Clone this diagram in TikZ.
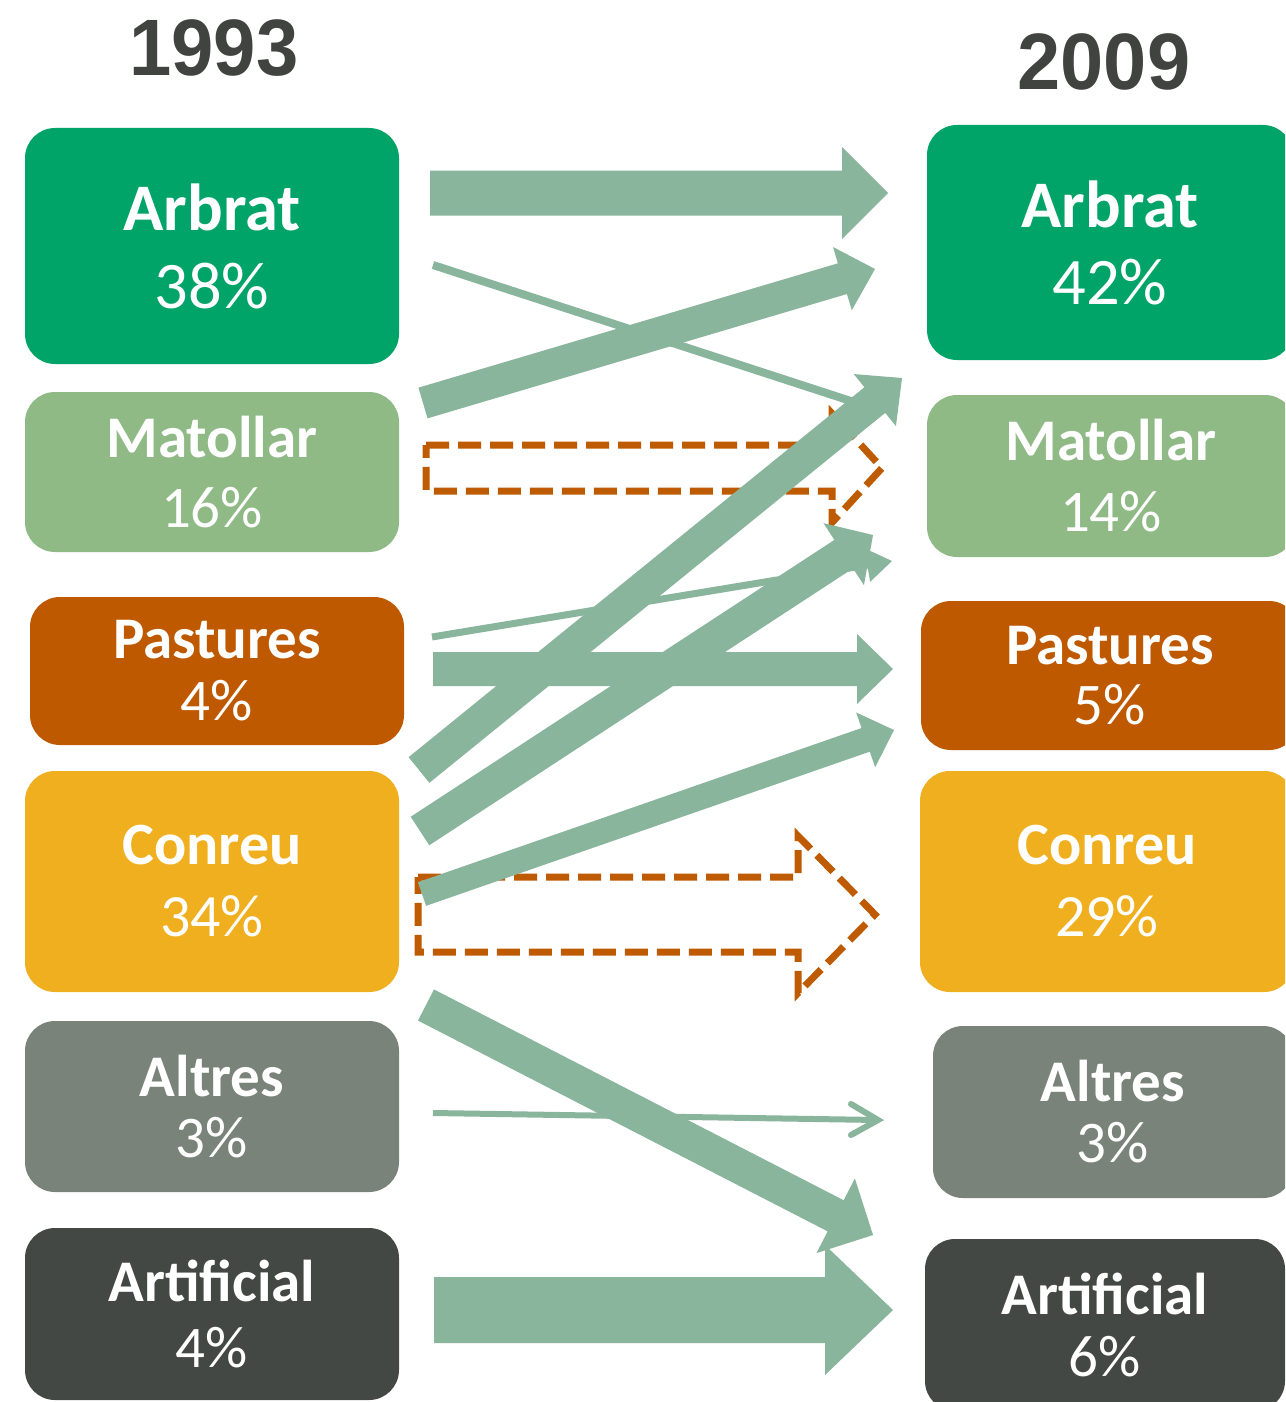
\documentclass[tikz,border=0pt]{standalone}
\usepackage{fontspec}
\setmainfont{Carlito}
\newfontfamily\yearfont{Liberation Sans}
\usetikzlibrary{calc}
\definecolor{arrowgreen}{HTML}{89B59D}
\definecolor{dashorange}{HTML}{BE5A00}
\definecolor{cArbrat}{HTML}{00A368}
\definecolor{cMatollar}{HTML}{8FBA86}
\definecolor{cPastures}{HTML}{BE5900}
\definecolor{cConreu}{HTML}{F0AF1E}
\definecolor{cAltres}{HTML}{7A837A}
\definecolor{cArtificial}{HTML}{434844}
\definecolor{yeargray}{HTML}{404340}
% block arrow: [style]{start}{tip}{half shaft}{head length}{half head width}
\newcommand{\blkarrow}[6][]{%
  \coordinate (hb) at ($(#3)!#5!(#2)$);
  \path[#1] ($(#2)!#4!90:(#3)$) -- ($(hb)!#4!90:(#3)$) -- ($(hb)!#6!90:(#3)$)
    -- (#3) -- ($(hb)!#6!-90:(#3)$) -- ($(hb)!#4!-90:(#3)$)
    -- ($(#2)!#4!-90:(#3)$) -- cycle;
}
\begin{document}
\begin{tikzpicture}[x=1pt,y=-1pt,
  catbox/.style={rounded corners=30pt, minimum width=374pt, text=white,
    align=center, inner sep=0pt},
  lab/.style 2 args={font=\fontsize{#1}{#2}\selectfont},
  yearlabel/.style={anchor=base, text=yeargray,
    font=\yearfont\bfseries\fontsize{80}{90}\selectfont},
  greenarrow/.style={fill=arrowgreen},
  dasharrow/.style={draw=dashorange, line width=7pt, dash pattern=on 23pt off 9pt,
    line join=miter},
  thinline/.style={draw=arrowgreen, line width=8pt}
]
\useasboundingbox (0,0) rectangle (1285,1402);
\clip (0,0) rectangle (1285,1402);
\fill[white] (0,0) rectangle (1285,1402);

% years
\node[yearlabel] (y1993) at (214,76) {\scalebox{0.95}[1]{1993}};
\node[yearlabel] (y2009) at (1104,90) {\scalebox{0.97}[1]{2009}};

% left boxes (1993)
\node[catbox, fill=cArbrat, minimum height=236pt, lab={66.5}{78}] (L1) at (212,246) {\textbf{Arbrat}\\38\%};
\node[catbox, fill=cMatollar, minimum height=160pt, lab={59}{70}] (L2) at (212,472) {\textbf{Matollar}\\16\%};
\node[catbox, fill=cPastures, minimum height=148pt, lab={59}{62}] (L3) at (217,671) {\textbf{Pastures}\\4\%};
\node[catbox, fill=cConreu, minimum height=221pt, lab={60}{72}] (L4) at (212,881.5) {\textbf{Conreu}\\34\%};
\node[catbox, fill=cAltres, minimum height=171pt, lab={59}{61}] (L5) at (212,1106.5) {\textbf{Altres}\\3\%};
\node[catbox, fill=cArtificial, minimum height=172pt, lab={59}{66}] (L6) at (212,1314) {\textbf{Artificial}\\4\%};

% right boxes (2009)
\node[catbox, fill=cArbrat, minimum width=366pt, minimum height=235pt, lab={66.5}{77}] (R1) at (1110,242.5) {\textbf{Arbrat}\\42\%};
\node[catbox, fill=cMatollar, minimum width=368pt, minimum height=162pt, lab={59}{71}] (R2) at (1111,476) {\textbf{Matollar}\\14\%};
\node[catbox, fill=cPastures, minimum width=378pt, minimum height=149pt, lab={59}{60}] (R3) at (1110,675.5) {\textbf{Pastures}\\5\%};
\node[catbox, fill=cConreu, minimum height=221pt, lab={60}{72}] (R4) at (1107,881.5) {\textbf{Conreu}\\29\%};
\node[catbox, fill=cAltres, minimum width=360pt, minimum height=172pt, lab={59}{61}] (R5) at (1113,1112) {\textbf{Altres}\\3\%};
\node[catbox, fill=cArtificial, minimum width=360pt, minimum height=172pt, lab={59}{62}] (R6) at (1105,1325) {\textbf{Artificial}\\6\%};

% arrow end points
\coordinate (s1) at (430,193);   \coordinate (t1) at (888,193);
\coordinate (s2) at (423,403);   \coordinate (t2) at (875,269);
\coordinate (s3) at (433,265);   \coordinate (t3) at (860,404);
\coordinate (s4) at (426,468);   \coordinate (t4) at (882,468);
\coordinate (s5) at (432,637);   \coordinate (t5) at (892,561);
\coordinate (s6) at (433,669);   \coordinate (t6) at (893,669);
\coordinate (s7) at (419,770);   \coordinate (t7) at (902,378);
\coordinate (s8) at (420,831);   \coordinate (t8) at (873,535);
\coordinate (s9) at (422,894);   \coordinate (t9) at (894,730);
\coordinate (s10) at (418,914.5); \coordinate (t10) at (875,914.5);
\coordinate (s11) at (426,1005); \coordinate (t11) at (873,1235);
\coordinate (s12) at (433,1113); \coordinate (t12) at (878,1120);
\coordinate (s13) at (434,1310); \coordinate (t13) at (893,1310);

% dashed (unchanged) arrows
\blkarrow[dasharrow]{s4}{t4}{23pt}{50pt}{54.5pt}
\blkarrow[dasharrow]{s10}{t10}{37.5pt}{77pt}{78.5pt}

% thin flows
\draw[thinline] (s3) -- (t3);
\draw[thinline, line width=6pt] (s12) -- (t12);
\draw[draw=arrowgreen, line width=6pt, line cap=round, line join=miter]
  ($(t12)+(-27,-16)$) -- (t12) -- ($(t12)+(-27,15)$);
\blkarrow[greenarrow]{s5}{t5}{3.5pt}{25pt}{17pt}

% block flows
\blkarrow[greenarrow]{s1}{t1}{22.5pt}{46pt}{46pt}
\blkarrow[greenarrow]{s2}{t2}{16pt}{34pt}{33pt}
\blkarrow[greenarrow]{s6}{t6}{17pt}{36pt}{35pt}
\blkarrow[greenarrow]{s7}{t7}{16.5pt}{35pt}{33.5pt}
\blkarrow[greenarrow]{s8}{t8}{17pt}{35pt}{37pt}
\blkarrow[greenarrow]{s9}{t9}{12.5pt}{30pt}{29pt}
\blkarrow[greenarrow]{s11}{t11}{17.5pt}{42pt}{42pt}
\blkarrow[greenarrow]{s13}{t13}{33pt}{68pt}{65pt}
\end{tikzpicture}
\end{document}
